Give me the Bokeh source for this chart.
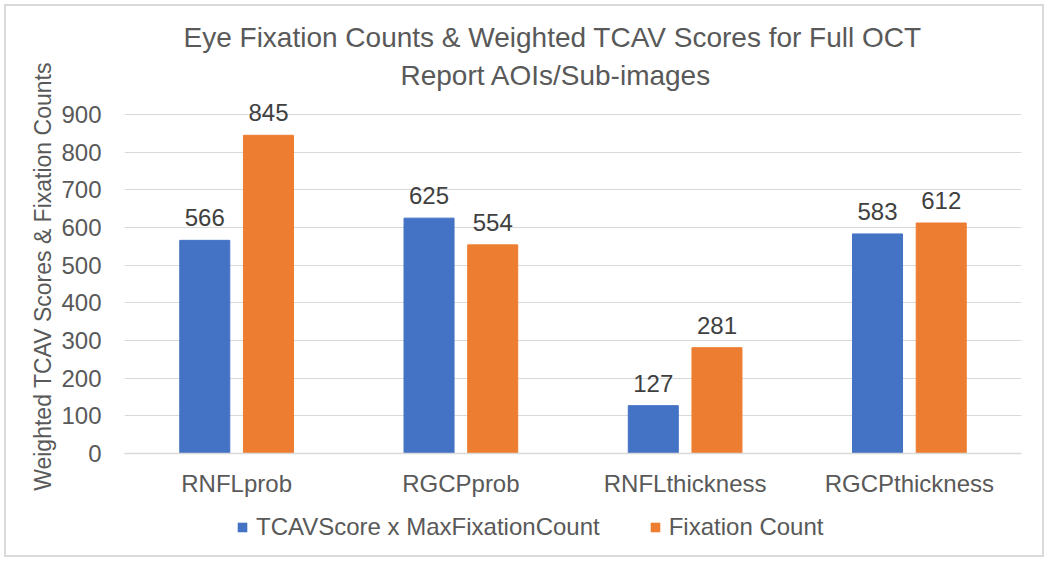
from bokeh.plotting import figure
from bokeh.layouts import column
from bokeh.models import FactorRange, Range1d, Legend, LegendItem, FixedTicker, ColumnDataSource, Title
from bokeh.transform import dodge
from bokeh.core.properties import value
from bokeh.embed import file_html
from bokeh.resources import INLINE

categories = ["RNFLprob", "RGCPprob", "RNFLthickness", "RGCPthickness"]
tcav_weighted = [566, 625, 127, 583]
fixation_count = [845, 554, 281, 612]
series_names = ["TCAVScore x MaxFixationCount", "Fixation Count"]
y_ticks = [0, 100, 200, 300, 400, 500, 600, 700, 800, 900]
title_lines = ["Eye Fixation Counts & Weighted TCAV Scores for Full OCT", "Report AOIs/Sub-images"]

FONT = "Liberation Sans"
TXT = "#595959"
BLUE = "#4472C4"
ORANGE = "#ED7D31"

src = ColumnDataSource(dict(cat=categories, a=tcav_weighted, b=fixation_count,
                            a_lbl=[str(v) for v in tcav_weighted],
                            b_lbl=[str(v) for v in fixation_count]))

p = figure(x_range=FactorRange(*categories), y_range=(0, 940), title=None,
           width=1036, height=493, output_backend="svg", toolbar_location=None,
           min_border_left=118, min_border_right=21, min_border_top=93, min_border_bottom=40)

p.add_layout(Title(text=title_lines[1], align="left", offset=276, text_font=FONT,
                   text_font_size="28px", text_font_style="normal", text_color=TXT, standoff=18), "above")
p.add_layout(Title(text=title_lines[0], align="left", offset=59, text_font=FONT,
                   text_font_size="28px", text_font_style="normal", text_color=TXT, standoff=-9), "above")

p.vbar(x=dodge("cat", -0.142, range=p.x_range), top="a", width=0.223, source=src,
       fill_color=BLUE, line_color=BLUE)
p.vbar(x=dodge("cat", 0.142, range=p.x_range), top="b", width=0.223, source=src,
       fill_color=ORANGE, line_color=ORANGE)

p.text(x=dodge("cat", -0.142, range=p.x_range), y="a", text="a_lbl", source=src,
       text_align="center", text_baseline="bottom", y_offset=-14,
       text_font=value(FONT), text_font_size="24px", text_color="#404040")
p.text(x=dodge("cat", 0.142, range=p.x_range), y="b", text="b_lbl", source=src,
       text_align="center", text_baseline="bottom", y_offset=-14,
       text_font=value(FONT), text_font_size="24px", text_color="#404040")

p.yaxis.ticker = FixedTicker(ticks=y_ticks)
p.yaxis.axis_line_color = None
p.yaxis.major_tick_line_color = None
p.yaxis.minor_tick_line_color = None
p.yaxis.major_label_standoff = 17
p.yaxis.major_label_text_font = FONT
p.yaxis.major_label_text_font_size = "24px"
p.yaxis.major_label_text_color = TXT
p.yaxis.axis_label = "Weighted TCAV Scores & Fixation Counts"
p.yaxis.axis_label_text_font = FONT
p.yaxis.axis_label_text_font_size = "23px"
p.yaxis.axis_label_text_font_style = "normal"
p.yaxis.axis_label_text_color = TXT
p.yaxis.axis_label_standoff = 2

p.xaxis.axis_line_color = "#d9d9d9"
p.xaxis.axis_line_width = 1.5
p.xaxis.major_tick_line_color = None
p.xaxis.minor_tick_line_color = None
p.xaxis.major_label_standoff = 10
p.xaxis.major_label_text_font = FONT
p.xaxis.major_label_text_font_size = "24px"
p.xaxis.major_label_text_color = TXT

p.xgrid.grid_line_color = None
p.ygrid.grid_line_color = "#d9d9d9"
p.ygrid.grid_line_width = 1
p.outline_line_color = None
p.x_range.range_padding = 0

# legend strip below the chart; proxy renderers sit fully outside the visible range
pl = figure(width=1036, height=56, x_range=Range1d(0, 1), y_range=Range1d(0, 1),
            x_axis_type=None, y_axis_type=None, output_backend="svg", toolbar_location=None,
            min_border=0, min_border_left=0, min_border_right=0, min_border_top=0, min_border_bottom=0)
pl.outline_line_color = None
la = pl.vbar(x=[-5], bottom=[-6], top=[-5], width=0.1, fill_color=BLUE, line_color=None)
lb = pl.vbar(x=[-5], bottom=[-6], top=[-5], width=0.1, fill_color=ORANGE, line_color=None)
legend = Legend(items=[LegendItem(label=series_names[0], renderers=[la]),
                       LegendItem(label=series_names[1], renderers=[lb])],
                orientation="horizontal", location=(112, 14),
                label_text_font=FONT, label_text_font_size="24px", label_text_color=TXT,
                glyph_width=12, glyph_height=12, label_standoff=8, spacing=49,
                border_line_color=None, background_fill_alpha=0, padding=5, margin=0)
pl.add_layout(legend)

layout = column(p, pl, spacing=0)
layout.styles = {"border": "2px solid #d9d9d9", "margin": "4px 0 0 4px", "background-color": "white"}

open("out.html", "w").write(file_html(layout, INLINE))
